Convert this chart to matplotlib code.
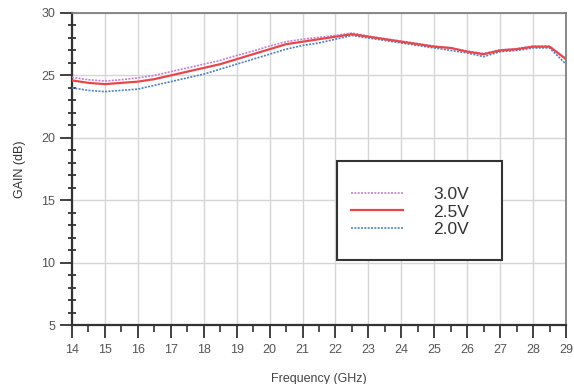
import matplotlib
matplotlib.use("Agg")
import matplotlib.pyplot as plt
from matplotlib.patches import Rectangle
from matplotlib.ticker import MultipleLocator

plt.rcParams['font.family'] = ['Liberation Sans', 'DejaVu Sans']

freq = [14, 14.5, 15, 15.5, 16, 16.5, 17, 17.5, 18, 18.5, 19, 19.5, 20, 20.5, 21, 21.5,
        22, 22.5, 23, 23.5, 24, 24.5, 25, 25.5, 26, 26.5, 27, 27.5, 28, 28.5, 29]
gain_30 = [24.85, 24.65, 24.55, 24.65, 24.8, 25.0, 25.3, 25.6, 25.9, 26.2, 26.6, 26.95, 27.35, 27.7, 27.9, 28.05,
           28.2, 28.4, 28.15, 27.95, 27.75, 27.55, 27.35, 27.2, 26.95, 26.75, 27.05, 27.15, 27.35, 27.35, 26.35]
gain_25 = [24.6, 24.4, 24.3, 24.4, 24.5, 24.7, 25.0, 25.3, 25.6, 25.9, 26.3, 26.7, 27.1, 27.5, 27.7, 27.9,
           28.1, 28.3, 28.1, 27.9, 27.7, 27.5, 27.3, 27.2, 26.9, 26.7, 27.0, 27.1, 27.3, 27.3, 26.3]
gain_20 = [24.0, 23.8, 23.7, 23.8, 23.9, 24.2, 24.5, 24.8, 25.1, 25.5, 25.9, 26.3, 26.7, 27.1, 27.4, 27.6,
           27.9, 28.2, 28.0, 27.8, 27.6, 27.4, 27.2, 27.0, 26.8, 26.5, 26.9, 27.0, 27.2, 27.2, 25.9]
labels = ["3.0V", "2.5V", "2.0V"]
xticks = list(range(14, 30))
yticks = [5, 10, 15, 20, 25, 30]

fig = plt.figure(figsize=(5.74, 3.84), dpi=100)
ax = fig.add_axes([72/574, 1 - 325/384, (566-72)/574, (325-13)/384])

ax.plot(freq, gain_30, color='#c77fd3', lw=1.2, ls=(0, (1.2, 0.8)), label=labels[0], zorder=3)
ax.plot(freq, gain_20, color='#4f7fc4', lw=1.2, ls=(0, (1.2, 0.8)), label=labels[2], zorder=3)
ax.plot(freq, gain_25, color='#e8474a', lw=1.6, ls='-', label=labels[1], zorder=4)

ax.set_xlim(14, 29)
ax.set_ylim(5, 30)
ax.set_xticks(xticks)
ax.set_yticks(yticks)
ax.xaxis.set_minor_locator(MultipleLocator(0.5))
ax.yaxis.set_minor_locator(MultipleLocator(1))
ax.grid(True, which='major', color='#d6d6d6', lw=1.0)
ax.set_axisbelow(True)

for s in ax.spines.values():
    s.set_color('#777777')
    s.set_linewidth(1.2)
ax.spines['left'].set_color('#333333')
ax.spines['bottom'].set_color('#333333')
ax.spines['left'].set_linewidth(1.6)
ax.spines['bottom'].set_linewidth(1.6)

ax.tick_params(axis='both', which='major', direction='out', length=9, width=1.3,
               color='#333333', labelsize=9, labelcolor='#555555', pad=2)
ax.tick_params(axis='y', which='minor', direction='inout', length=6, width=1.3, color='#333333')
ax.tick_params(axis='x', which='minor', direction='out', length=5, width=1.2, color='#333333')
ax.tick_params(axis='x', which='major', pad=5)
ax.tick_params(axis='y', which='major', pad=3)

ax.set_xlabel('Frequency (GHz)', fontsize=9, color='#444444', labelpad=12)
ax.set_ylabel('GAIN (dB)', fontsize=9, color='#333333', labelpad=11)

# legend box
x0 = 14 + (337 - 72) / (566 - 72) * 15
x1 = 14 + (502 - 72) / (566 - 72) * 15
y1 = 30 - (161 - 13) / 12.5
y0 = 30 - (260 - 13) / 12.5
ax.add_patch(Rectangle((x0, y0), x1 - x0, y1 - y0, fill=True, facecolor='white',
                       edgecolor='#333333', lw=1.5, zorder=5))

h = ax.get_legend_handles_labels()
order = [0, 2, 1]
handles = [h[0][i] for i in order]
leg = ax.legend(handles, labels, loc='upper left',
                bbox_to_anchor=((351 - 72) / 494, 1 - (187 - 13) / 312),
                frameon=False, fontsize=12.5, handlelength=3.0, handletextpad=1.75,
                labelspacing=0.13, borderpad=0, borderaxespad=0)
leg.set_zorder(6)
for t in leg.get_texts():
    t.set_color('#333333')

fig.savefig('out.png', dpi=100)
